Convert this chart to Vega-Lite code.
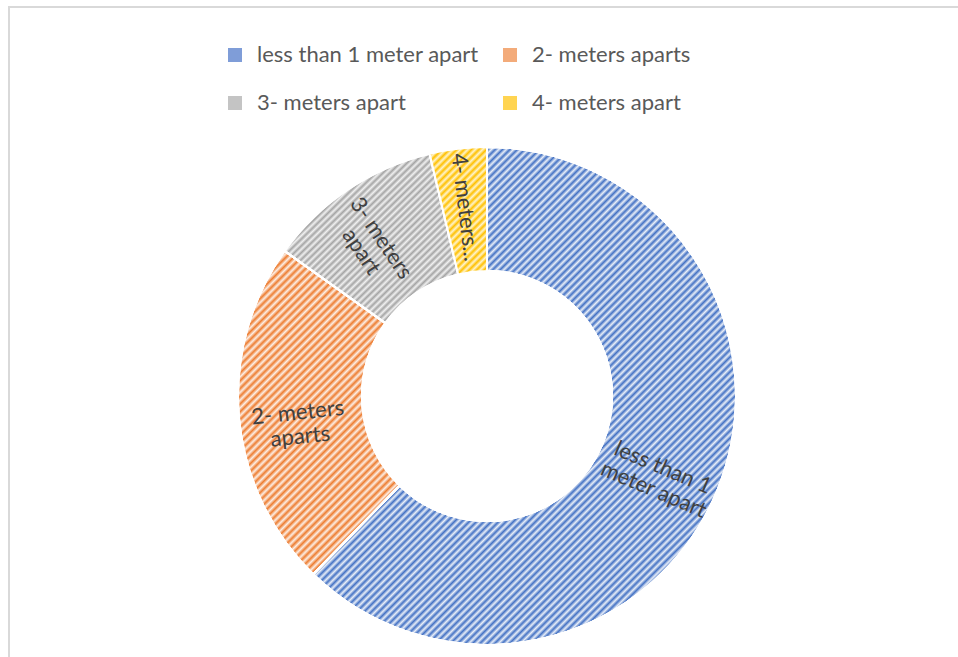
{
  "$schema": "https://vega.github.io/schema/vega-lite/v6.json",
  "width": 956,
  "height": 778,
  "autosize": {"type": "none"},
  "padding": {"left": 9, "top": 7, "right": -7, "bottom": -128},
  "background": "white",
  "view": {"stroke": "#d9d9d9", "strokeWidth": 2},
  "config": {"view": {"stroke": "#d9d9d9", "strokeWidth": 2}, "style": {"view": {"stroke": "#d9d9d9", "strokeWidth": 2}}, "font": "Lato"},
  "data": {"values": [
    {"category": "less than 1 meter apart", "share": 62.3, "label": "less than 1\nmeter apart"},
    {"category": "2- meters aparts", "share": 22.6, "label": "2- meters\naparts"},
    {"category": "3- meters apart", "share": 11.4, "label": "3- meters\napart"},
    {"category": "4- meters apart", "share": 3.7, "label": "4- meters..."}
  ]},
  "encoding": {
    "theta": {"field": "share", "type": "quantitative", "stack": true},
    "order": {"field": "share", "type": "quantitative", "sort": "descending"}
  },
  "layer": [
    {
      "mark": {"type": "arc", "outerRadius": 249, "innerRadius": 125, "stroke": "white", "strokeWidth": 2},
      "encoding": {
        "color": {
          "field": "category",
          "type": "nominal",
          "scale": {
            "domain": ["less than 1 meter apart", "2- meters aparts", "3- meters apart", "4- meters apart"],
            "range": ["#7f9dd8", "#f3ab7a", "#c4c4c4", "#ffd451"]
          },
          "legend": {
            "title": null,
            "orient": "none",
            "legendX": 215,
            "legendY": 37,
            "direction": "horizontal",
            "columns": 2,
            "symbolType": "square",
            "symbolSize": 196,
            "symbolStrokeWidth": 0,
            "labelFontSize": 22,
            "labelFont": "Lato",
            "labelColor": "#595959",
            "labelLimit": 400,
            "labelOffset": 11,
            "columnPadding": 20,
            "rowPadding": 26,
            "padding": 0
          }
        }
      }
    },
    {
      "mark": {"type": "arc", "outerRadius": 249, "innerRadius": 125, "stroke": "white", "strokeWidth": 2,
        "fill": {"gradient": "linear", "x1": 0, "y1": 0, "x2": 0.912, "y2": 1.076, "stops": [
{"offset":0,"color":"#4472c4"},{"offset":0.004,"color":"#e8eef8"},{"offset":0.008,"color":"#4472c4"},{"offset":0.012,"color":"#e8eef8"},{"offset":0.016,"color":"#4472c4"},{"offset":0.02,"color":"#e8eef8"},{"offset":0.024,"color":"#4472c4"},{"offset":0.028,"color":"#e8eef8"},{"offset":0.032,"color":"#4472c4"},{"offset":0.036,"color":"#e8eef8"},
{"offset":0.04,"color":"#4472c4"},{"offset":0.044,"color":"#e8eef8"},{"offset":0.048,"color":"#4472c4"},{"offset":0.052,"color":"#e8eef8"},{"offset":0.056,"color":"#4472c4"},{"offset":0.06,"color":"#e8eef8"},{"offset":0.064,"color":"#4472c4"},{"offset":0.068,"color":"#e8eef8"},{"offset":0.072,"color":"#4472c4"},{"offset":0.076,"color":"#e8eef8"},
{"offset":0.08,"color":"#4472c4"},{"offset":0.084,"color":"#e8eef8"},{"offset":0.088,"color":"#4472c4"},{"offset":0.092,"color":"#e8eef8"},{"offset":0.096,"color":"#4472c4"},{"offset":0.1,"color":"#e8eef8"},{"offset":0.104,"color":"#4472c4"},{"offset":0.108,"color":"#e8eef8"},{"offset":0.112,"color":"#4472c4"},{"offset":0.116,"color":"#e8eef8"},
{"offset":0.12,"color":"#4472c4"},{"offset":0.124,"color":"#e8eef8"},{"offset":0.128,"color":"#4472c4"},{"offset":0.132,"color":"#e8eef8"},{"offset":0.136,"color":"#4472c4"},{"offset":0.14,"color":"#e8eef8"},{"offset":0.144,"color":"#4472c4"},{"offset":0.148,"color":"#e8eef8"},{"offset":0.152,"color":"#4472c4"},{"offset":0.156,"color":"#e8eef8"},
{"offset":0.16,"color":"#4472c4"},{"offset":0.164,"color":"#e8eef8"},{"offset":0.168,"color":"#4472c4"},{"offset":0.172,"color":"#e8eef8"},{"offset":0.176,"color":"#4472c4"},{"offset":0.18,"color":"#e8eef8"},{"offset":0.184,"color":"#4472c4"},{"offset":0.188,"color":"#e8eef8"},{"offset":0.192,"color":"#4472c4"},{"offset":0.196,"color":"#e8eef8"},
{"offset":0.2,"color":"#4472c4"},{"offset":0.204,"color":"#e8eef8"},{"offset":0.208,"color":"#4472c4"},{"offset":0.212,"color":"#e8eef8"},{"offset":0.216,"color":"#4472c4"},{"offset":0.22,"color":"#e8eef8"},{"offset":0.224,"color":"#4472c4"},{"offset":0.228,"color":"#e8eef8"},{"offset":0.232,"color":"#4472c4"},{"offset":0.236,"color":"#e8eef8"},
{"offset":0.24,"color":"#4472c4"},{"offset":0.244,"color":"#e8eef8"},{"offset":0.248,"color":"#4472c4"},{"offset":0.252,"color":"#e8eef8"},{"offset":0.256,"color":"#4472c4"},{"offset":0.26,"color":"#e8eef8"},{"offset":0.264,"color":"#4472c4"},{"offset":0.268,"color":"#e8eef8"},{"offset":0.272,"color":"#4472c4"},{"offset":0.276,"color":"#e8eef8"},
{"offset":0.28,"color":"#4472c4"},{"offset":0.284,"color":"#e8eef8"},{"offset":0.288,"color":"#4472c4"},{"offset":0.292,"color":"#e8eef8"},{"offset":0.296,"color":"#4472c4"},{"offset":0.3,"color":"#e8eef8"},{"offset":0.304,"color":"#4472c4"},{"offset":0.308,"color":"#e8eef8"},{"offset":0.312,"color":"#4472c4"},{"offset":0.316,"color":"#e8eef8"},
{"offset":0.32,"color":"#4472c4"},{"offset":0.324,"color":"#e8eef8"},{"offset":0.328,"color":"#4472c4"},{"offset":0.332,"color":"#e8eef8"},{"offset":0.336,"color":"#4472c4"},{"offset":0.34,"color":"#e8eef8"},{"offset":0.344,"color":"#4472c4"},{"offset":0.348,"color":"#e8eef8"},{"offset":0.352,"color":"#4472c4"},{"offset":0.356,"color":"#e8eef8"},
{"offset":0.36,"color":"#4472c4"},{"offset":0.364,"color":"#e8eef8"},{"offset":0.368,"color":"#4472c4"},{"offset":0.372,"color":"#e8eef8"},{"offset":0.376,"color":"#4472c4"},{"offset":0.38,"color":"#e8eef8"},{"offset":0.384,"color":"#4472c4"},{"offset":0.388,"color":"#e8eef8"},{"offset":0.392,"color":"#4472c4"},{"offset":0.396,"color":"#e8eef8"},
{"offset":0.4,"color":"#4472c4"},{"offset":0.404,"color":"#e8eef8"},{"offset":0.408,"color":"#4472c4"},{"offset":0.412,"color":"#e8eef8"},{"offset":0.416,"color":"#4472c4"},{"offset":0.42,"color":"#e8eef8"},{"offset":0.424,"color":"#4472c4"},{"offset":0.428,"color":"#e8eef8"},{"offset":0.432,"color":"#4472c4"},{"offset":0.436,"color":"#e8eef8"},
{"offset":0.44,"color":"#4472c4"},{"offset":0.444,"color":"#e8eef8"},{"offset":0.448,"color":"#4472c4"},{"offset":0.452,"color":"#e8eef8"},{"offset":0.456,"color":"#4472c4"},{"offset":0.46,"color":"#e8eef8"},{"offset":0.464,"color":"#4472c4"},{"offset":0.468,"color":"#e8eef8"},{"offset":0.472,"color":"#4472c4"},{"offset":0.476,"color":"#e8eef8"},
{"offset":0.48,"color":"#4472c4"},{"offset":0.484,"color":"#e8eef8"},{"offset":0.488,"color":"#4472c4"},{"offset":0.492,"color":"#e8eef8"},{"offset":0.496,"color":"#4472c4"},{"offset":0.5,"color":"#e8eef8"},{"offset":0.504,"color":"#4472c4"},{"offset":0.508,"color":"#e8eef8"},{"offset":0.512,"color":"#4472c4"},{"offset":0.516,"color":"#e8eef8"},
{"offset":0.52,"color":"#4472c4"},{"offset":0.524,"color":"#e8eef8"},{"offset":0.528,"color":"#4472c4"},{"offset":0.532,"color":"#e8eef8"},{"offset":0.536,"color":"#4472c4"},{"offset":0.54,"color":"#e8eef8"},{"offset":0.544,"color":"#4472c4"},{"offset":0.548,"color":"#e8eef8"},{"offset":0.552,"color":"#4472c4"},{"offset":0.556,"color":"#e8eef8"},
{"offset":0.56,"color":"#4472c4"},{"offset":0.564,"color":"#e8eef8"},{"offset":0.568,"color":"#4472c4"},{"offset":0.572,"color":"#e8eef8"},{"offset":0.576,"color":"#4472c4"},{"offset":0.58,"color":"#e8eef8"},{"offset":0.584,"color":"#4472c4"},{"offset":0.588,"color":"#e8eef8"},{"offset":0.592,"color":"#4472c4"},{"offset":0.596,"color":"#e8eef8"},
{"offset":0.6,"color":"#4472c4"},{"offset":0.604,"color":"#e8eef8"},{"offset":0.608,"color":"#4472c4"},{"offset":0.612,"color":"#e8eef8"},{"offset":0.616,"color":"#4472c4"},{"offset":0.62,"color":"#e8eef8"},{"offset":0.624,"color":"#4472c4"},{"offset":0.628,"color":"#e8eef8"},{"offset":0.632,"color":"#4472c4"},{"offset":0.636,"color":"#e8eef8"},
{"offset":0.64,"color":"#4472c4"},{"offset":0.644,"color":"#e8eef8"},{"offset":0.648,"color":"#4472c4"},{"offset":0.652,"color":"#e8eef8"},{"offset":0.656,"color":"#4472c4"},{"offset":0.66,"color":"#e8eef8"},{"offset":0.664,"color":"#4472c4"},{"offset":0.668,"color":"#e8eef8"},{"offset":0.672,"color":"#4472c4"},{"offset":0.676,"color":"#e8eef8"},
{"offset":0.68,"color":"#4472c4"},{"offset":0.684,"color":"#e8eef8"},{"offset":0.688,"color":"#4472c4"},{"offset":0.692,"color":"#e8eef8"},{"offset":0.696,"color":"#4472c4"},{"offset":0.7,"color":"#e8eef8"},{"offset":0.704,"color":"#4472c4"},{"offset":0.708,"color":"#e8eef8"},{"offset":0.712,"color":"#4472c4"},{"offset":0.716,"color":"#e8eef8"},
{"offset":0.72,"color":"#4472c4"},{"offset":0.724,"color":"#e8eef8"},{"offset":0.728,"color":"#4472c4"},{"offset":0.732,"color":"#e8eef8"},{"offset":0.736,"color":"#4472c4"},{"offset":0.74,"color":"#e8eef8"},{"offset":0.744,"color":"#4472c4"},{"offset":0.748,"color":"#e8eef8"},{"offset":0.752,"color":"#4472c4"},{"offset":0.756,"color":"#e8eef8"},
{"offset":0.76,"color":"#4472c4"},{"offset":0.764,"color":"#e8eef8"},{"offset":0.768,"color":"#4472c4"},{"offset":0.772,"color":"#e8eef8"},{"offset":0.776,"color":"#4472c4"},{"offset":0.78,"color":"#e8eef8"},{"offset":0.784,"color":"#4472c4"},{"offset":0.788,"color":"#e8eef8"},{"offset":0.792,"color":"#4472c4"},{"offset":0.796,"color":"#e8eef8"},
{"offset":0.8,"color":"#4472c4"},{"offset":0.804,"color":"#e8eef8"},{"offset":0.808,"color":"#4472c4"},{"offset":0.812,"color":"#e8eef8"},{"offset":0.816,"color":"#4472c4"},{"offset":0.82,"color":"#e8eef8"},{"offset":0.824,"color":"#4472c4"},{"offset":0.828,"color":"#e8eef8"},{"offset":0.832,"color":"#4472c4"},{"offset":0.836,"color":"#e8eef8"},
{"offset":0.84,"color":"#4472c4"},{"offset":0.844,"color":"#e8eef8"},{"offset":0.848,"color":"#4472c4"},{"offset":0.852,"color":"#e8eef8"},{"offset":0.856,"color":"#4472c4"},{"offset":0.86,"color":"#e8eef8"},{"offset":0.864,"color":"#4472c4"},{"offset":0.868,"color":"#e8eef8"},{"offset":0.872,"color":"#4472c4"},{"offset":0.876,"color":"#e8eef8"},
{"offset":0.88,"color":"#4472c4"},{"offset":0.884,"color":"#e8eef8"},{"offset":0.888,"color":"#4472c4"},{"offset":0.892,"color":"#e8eef8"},{"offset":0.896,"color":"#4472c4"},{"offset":0.9,"color":"#e8eef8"},{"offset":0.904,"color":"#4472c4"},{"offset":0.908,"color":"#e8eef8"},{"offset":0.912,"color":"#4472c4"},{"offset":0.916,"color":"#e8eef8"},
{"offset":0.92,"color":"#4472c4"},{"offset":0.924,"color":"#e8eef8"},{"offset":0.928,"color":"#4472c4"},{"offset":0.932,"color":"#e8eef8"},{"offset":0.936,"color":"#4472c4"},{"offset":0.94,"color":"#e8eef8"},{"offset":0.944,"color":"#4472c4"},{"offset":0.948,"color":"#e8eef8"},{"offset":0.952,"color":"#4472c4"},{"offset":0.956,"color":"#e8eef8"},
{"offset":0.96,"color":"#4472c4"},{"offset":0.964,"color":"#e8eef8"},{"offset":0.968,"color":"#4472c4"},{"offset":0.972,"color":"#e8eef8"},{"offset":0.976,"color":"#4472c4"},{"offset":0.98,"color":"#e8eef8"},{"offset":0.984,"color":"#4472c4"},{"offset":0.988,"color":"#e8eef8"},{"offset":0.992,"color":"#4472c4"},{"offset":0.996,"color":"#e8eef8"},
{"offset":1,"color":"#4472c4"}
        ]}},
      "encoding": {"fillOpacity": {"condition": {"test": "datum.category === 'less than 1 meter apart'", "value": 1}, "value": 0}}
    },
    {
      "mark": {"type": "arc", "outerRadius": 249, "innerRadius": 125, "stroke": "white", "strokeWidth": 2,
        "fill": {"gradient": "linear", "x1": 0, "y1": 0, "x2": 0.6, "y2": 1.2, "stops": [
{"offset":0,"color":"#ed7d31"},{"offset":0.008,"color":"#fdeee4"},{"offset":0.016,"color":"#ed7d31"},{"offset":0.024,"color":"#fdeee4"},{"offset":0.032,"color":"#ed7d31"},{"offset":0.04,"color":"#fdeee4"},{"offset":0.048,"color":"#ed7d31"},{"offset":0.056,"color":"#fdeee4"},{"offset":0.064,"color":"#ed7d31"},{"offset":0.072,"color":"#fdeee4"},
{"offset":0.08,"color":"#ed7d31"},{"offset":0.088,"color":"#fdeee4"},{"offset":0.096,"color":"#ed7d31"},{"offset":0.104,"color":"#fdeee4"},{"offset":0.112,"color":"#ed7d31"},{"offset":0.12,"color":"#fdeee4"},{"offset":0.128,"color":"#ed7d31"},{"offset":0.136,"color":"#fdeee4"},{"offset":0.144,"color":"#ed7d31"},{"offset":0.152,"color":"#fdeee4"},
{"offset":0.16,"color":"#ed7d31"},{"offset":0.168,"color":"#fdeee4"},{"offset":0.176,"color":"#ed7d31"},{"offset":0.184,"color":"#fdeee4"},{"offset":0.192,"color":"#ed7d31"},{"offset":0.2,"color":"#fdeee4"},{"offset":0.208,"color":"#ed7d31"},{"offset":0.216,"color":"#fdeee4"},{"offset":0.224,"color":"#ed7d31"},{"offset":0.232,"color":"#fdeee4"},
{"offset":0.24,"color":"#ed7d31"},{"offset":0.248,"color":"#fdeee4"},{"offset":0.256,"color":"#ed7d31"},{"offset":0.264,"color":"#fdeee4"},{"offset":0.272,"color":"#ed7d31"},{"offset":0.28,"color":"#fdeee4"},{"offset":0.288,"color":"#ed7d31"},{"offset":0.296,"color":"#fdeee4"},{"offset":0.304,"color":"#ed7d31"},{"offset":0.312,"color":"#fdeee4"},
{"offset":0.32,"color":"#ed7d31"},{"offset":0.328,"color":"#fdeee4"},{"offset":0.336,"color":"#ed7d31"},{"offset":0.344,"color":"#fdeee4"},{"offset":0.352,"color":"#ed7d31"},{"offset":0.36,"color":"#fdeee4"},{"offset":0.368,"color":"#ed7d31"},{"offset":0.376,"color":"#fdeee4"},{"offset":0.384,"color":"#ed7d31"},{"offset":0.392,"color":"#fdeee4"},
{"offset":0.4,"color":"#ed7d31"},{"offset":0.408,"color":"#fdeee4"},{"offset":0.416,"color":"#ed7d31"},{"offset":0.424,"color":"#fdeee4"},{"offset":0.432,"color":"#ed7d31"},{"offset":0.44,"color":"#fdeee4"},{"offset":0.448,"color":"#ed7d31"},{"offset":0.456,"color":"#fdeee4"},{"offset":0.464,"color":"#ed7d31"},{"offset":0.472,"color":"#fdeee4"},
{"offset":0.48,"color":"#ed7d31"},{"offset":0.488,"color":"#fdeee4"},{"offset":0.496,"color":"#ed7d31"},{"offset":0.504,"color":"#fdeee4"},{"offset":0.512,"color":"#ed7d31"},{"offset":0.52,"color":"#fdeee4"},{"offset":0.528,"color":"#ed7d31"},{"offset":0.536,"color":"#fdeee4"},{"offset":0.544,"color":"#ed7d31"},{"offset":0.552,"color":"#fdeee4"},
{"offset":0.56,"color":"#ed7d31"},{"offset":0.568,"color":"#fdeee4"},{"offset":0.576,"color":"#ed7d31"},{"offset":0.584,"color":"#fdeee4"},{"offset":0.592,"color":"#ed7d31"},{"offset":0.6,"color":"#fdeee4"},{"offset":0.608,"color":"#ed7d31"},{"offset":0.616,"color":"#fdeee4"},{"offset":0.624,"color":"#ed7d31"},{"offset":0.632,"color":"#fdeee4"},
{"offset":0.64,"color":"#ed7d31"},{"offset":0.648,"color":"#fdeee4"},{"offset":0.656,"color":"#ed7d31"},{"offset":0.664,"color":"#fdeee4"},{"offset":0.672,"color":"#ed7d31"},{"offset":0.68,"color":"#fdeee4"},{"offset":0.688,"color":"#ed7d31"},{"offset":0.696,"color":"#fdeee4"},{"offset":0.704,"color":"#ed7d31"},{"offset":0.712,"color":"#fdeee4"},
{"offset":0.72,"color":"#ed7d31"},{"offset":0.728,"color":"#fdeee4"},{"offset":0.736,"color":"#ed7d31"},{"offset":0.744,"color":"#fdeee4"},{"offset":0.752,"color":"#ed7d31"},{"offset":0.76,"color":"#fdeee4"},{"offset":0.768,"color":"#ed7d31"},{"offset":0.776,"color":"#fdeee4"},{"offset":0.784,"color":"#ed7d31"},{"offset":0.792,"color":"#fdeee4"},
{"offset":0.8,"color":"#ed7d31"},{"offset":0.808,"color":"#fdeee4"},{"offset":0.816,"color":"#ed7d31"},{"offset":0.824,"color":"#fdeee4"},{"offset":0.832,"color":"#ed7d31"},{"offset":0.84,"color":"#fdeee4"},{"offset":0.848,"color":"#ed7d31"},{"offset":0.856,"color":"#fdeee4"},{"offset":0.864,"color":"#ed7d31"},{"offset":0.872,"color":"#fdeee4"},
{"offset":0.88,"color":"#ed7d31"},{"offset":0.888,"color":"#fdeee4"},{"offset":0.896,"color":"#ed7d31"},{"offset":0.904,"color":"#fdeee4"},{"offset":0.912,"color":"#ed7d31"},{"offset":0.92,"color":"#fdeee4"},{"offset":0.928,"color":"#ed7d31"},{"offset":0.936,"color":"#fdeee4"},{"offset":0.944,"color":"#ed7d31"},{"offset":0.952,"color":"#fdeee4"},
{"offset":0.96,"color":"#ed7d31"},{"offset":0.968,"color":"#fdeee4"},{"offset":0.976,"color":"#ed7d31"},{"offset":0.984,"color":"#fdeee4"},{"offset":0.992,"color":"#ed7d31"},{"offset":1,"color":"#fdeee4"}
        ]}},
      "encoding": {"fillOpacity": {"condition": {"test": "datum.category === '2- meters aparts'", "value": 1}, "value": 0}}
    },
    {
      "mark": {"type": "arc", "outerRadius": 249, "innerRadius": 125, "stroke": "white", "strokeWidth": 2,
        "fill": {"gradient": "linear", "x1": 0, "y1": 0, "x2": 1, "y2": 1, "stops": [
{"offset":0,"color":"#a5a5a5"},{"offset":0.01,"color":"#f0f0f0"},{"offset":0.02,"color":"#a5a5a5"},{"offset":0.03,"color":"#f0f0f0"},{"offset":0.04,"color":"#a5a5a5"},{"offset":0.05,"color":"#f0f0f0"},{"offset":0.06,"color":"#a5a5a5"},{"offset":0.07,"color":"#f0f0f0"},{"offset":0.08,"color":"#a5a5a5"},{"offset":0.09,"color":"#f0f0f0"},
{"offset":0.1,"color":"#a5a5a5"},{"offset":0.11,"color":"#f0f0f0"},{"offset":0.12,"color":"#a5a5a5"},{"offset":0.13,"color":"#f0f0f0"},{"offset":0.14,"color":"#a5a5a5"},{"offset":0.15,"color":"#f0f0f0"},{"offset":0.16,"color":"#a5a5a5"},{"offset":0.17,"color":"#f0f0f0"},{"offset":0.18,"color":"#a5a5a5"},{"offset":0.19,"color":"#f0f0f0"},
{"offset":0.2,"color":"#a5a5a5"},{"offset":0.21,"color":"#f0f0f0"},{"offset":0.22,"color":"#a5a5a5"},{"offset":0.23,"color":"#f0f0f0"},{"offset":0.24,"color":"#a5a5a5"},{"offset":0.25,"color":"#f0f0f0"},{"offset":0.26,"color":"#a5a5a5"},{"offset":0.27,"color":"#f0f0f0"},{"offset":0.28,"color":"#a5a5a5"},{"offset":0.29,"color":"#f0f0f0"},
{"offset":0.3,"color":"#a5a5a5"},{"offset":0.31,"color":"#f0f0f0"},{"offset":0.32,"color":"#a5a5a5"},{"offset":0.33,"color":"#f0f0f0"},{"offset":0.34,"color":"#a5a5a5"},{"offset":0.35,"color":"#f0f0f0"},{"offset":0.36,"color":"#a5a5a5"},{"offset":0.37,"color":"#f0f0f0"},{"offset":0.38,"color":"#a5a5a5"},{"offset":0.39,"color":"#f0f0f0"},
{"offset":0.4,"color":"#a5a5a5"},{"offset":0.41,"color":"#f0f0f0"},{"offset":0.42,"color":"#a5a5a5"},{"offset":0.43,"color":"#f0f0f0"},{"offset":0.44,"color":"#a5a5a5"},{"offset":0.45,"color":"#f0f0f0"},{"offset":0.46,"color":"#a5a5a5"},{"offset":0.47,"color":"#f0f0f0"},{"offset":0.48,"color":"#a5a5a5"},{"offset":0.49,"color":"#f0f0f0"},
{"offset":0.5,"color":"#a5a5a5"},{"offset":0.51,"color":"#f0f0f0"},{"offset":0.52,"color":"#a5a5a5"},{"offset":0.53,"color":"#f0f0f0"},{"offset":0.54,"color":"#a5a5a5"},{"offset":0.55,"color":"#f0f0f0"},{"offset":0.56,"color":"#a5a5a5"},{"offset":0.57,"color":"#f0f0f0"},{"offset":0.58,"color":"#a5a5a5"},{"offset":0.59,"color":"#f0f0f0"},
{"offset":0.6,"color":"#a5a5a5"},{"offset":0.61,"color":"#f0f0f0"},{"offset":0.62,"color":"#a5a5a5"},{"offset":0.63,"color":"#f0f0f0"},{"offset":0.64,"color":"#a5a5a5"},{"offset":0.65,"color":"#f0f0f0"},{"offset":0.66,"color":"#a5a5a5"},{"offset":0.67,"color":"#f0f0f0"},{"offset":0.68,"color":"#a5a5a5"},{"offset":0.69,"color":"#f0f0f0"},
{"offset":0.7,"color":"#a5a5a5"},{"offset":0.71,"color":"#f0f0f0"},{"offset":0.72,"color":"#a5a5a5"},{"offset":0.73,"color":"#f0f0f0"},{"offset":0.74,"color":"#a5a5a5"},{"offset":0.75,"color":"#f0f0f0"},{"offset":0.76,"color":"#a5a5a5"},{"offset":0.77,"color":"#f0f0f0"},{"offset":0.78,"color":"#a5a5a5"},{"offset":0.79,"color":"#f0f0f0"},
{"offset":0.8,"color":"#a5a5a5"},{"offset":0.81,"color":"#f0f0f0"},{"offset":0.82,"color":"#a5a5a5"},{"offset":0.83,"color":"#f0f0f0"},{"offset":0.84,"color":"#a5a5a5"},{"offset":0.85,"color":"#f0f0f0"},{"offset":0.86,"color":"#a5a5a5"},{"offset":0.87,"color":"#f0f0f0"},{"offset":0.88,"color":"#a5a5a5"},{"offset":0.89,"color":"#f0f0f0"},
{"offset":0.9,"color":"#a5a5a5"},{"offset":0.91,"color":"#f0f0f0"},{"offset":0.92,"color":"#a5a5a5"},{"offset":0.93,"color":"#f0f0f0"},{"offset":0.94,"color":"#a5a5a5"},{"offset":0.95,"color":"#f0f0f0"},{"offset":0.96,"color":"#a5a5a5"},{"offset":0.97,"color":"#f0f0f0"},{"offset":0.98,"color":"#a5a5a5"},{"offset":0.99,"color":"#f0f0f0"},
{"offset":1,"color":"#a5a5a5"}
        ]}},
      "encoding": {"fillOpacity": {"condition": {"test": "datum.category === '3- meters apart'", "value": 1}, "value": 0}}
    },
    {
      "mark": {"type": "arc", "outerRadius": 249, "innerRadius": 125, "stroke": "white", "strokeWidth": 2,
        "fill": {"gradient": "linear", "x1": 0, "y1": 0, "x2": 0.541, "y2": 1.206, "stops": [
{"offset":0,"color":"#ffc000"},{"offset":0.02,"color":"#fff4cc"},{"offset":0.04,"color":"#ffc000"},{"offset":0.06,"color":"#fff4cc"},{"offset":0.08,"color":"#ffc000"},{"offset":0.1,"color":"#fff4cc"},{"offset":0.12,"color":"#ffc000"},{"offset":0.14,"color":"#fff4cc"},{"offset":0.16,"color":"#ffc000"},{"offset":0.18,"color":"#fff4cc"},
{"offset":0.2,"color":"#ffc000"},{"offset":0.22,"color":"#fff4cc"},{"offset":0.24,"color":"#ffc000"},{"offset":0.26,"color":"#fff4cc"},{"offset":0.28,"color":"#ffc000"},{"offset":0.3,"color":"#fff4cc"},{"offset":0.32,"color":"#ffc000"},{"offset":0.34,"color":"#fff4cc"},{"offset":0.36,"color":"#ffc000"},{"offset":0.38,"color":"#fff4cc"},
{"offset":0.4,"color":"#ffc000"},{"offset":0.42,"color":"#fff4cc"},{"offset":0.44,"color":"#ffc000"},{"offset":0.46,"color":"#fff4cc"},{"offset":0.48,"color":"#ffc000"},{"offset":0.5,"color":"#fff4cc"},{"offset":0.52,"color":"#ffc000"},{"offset":0.54,"color":"#fff4cc"},{"offset":0.56,"color":"#ffc000"},{"offset":0.58,"color":"#fff4cc"},
{"offset":0.6,"color":"#ffc000"},{"offset":0.62,"color":"#fff4cc"},{"offset":0.64,"color":"#ffc000"},{"offset":0.66,"color":"#fff4cc"},{"offset":0.68,"color":"#ffc000"},{"offset":0.7,"color":"#fff4cc"},{"offset":0.72,"color":"#ffc000"},{"offset":0.74,"color":"#fff4cc"},{"offset":0.76,"color":"#ffc000"},{"offset":0.78,"color":"#fff4cc"},
{"offset":0.8,"color":"#ffc000"},{"offset":0.82,"color":"#fff4cc"},{"offset":0.84,"color":"#ffc000"},{"offset":0.86,"color":"#fff4cc"},{"offset":0.88,"color":"#ffc000"},{"offset":0.9,"color":"#fff4cc"},{"offset":0.92,"color":"#ffc000"},{"offset":0.94,"color":"#fff4cc"},{"offset":0.96,"color":"#ffc000"},{"offset":0.98,"color":"#fff4cc"},
{"offset":1,"color":"#ffc000"}
        ]}},
      "encoding": {"fillOpacity": {"condition": {"test": "datum.category === '4- meters apart'", "value": 1}, "value": 0}}
    },
    {
      "mark": {"type": "text", "radius": 190, "lineBreak": "\n", "fontSize": 22, "font": "Lato", "fill": "#404040", "align": "center", "baseline": "middle"},
      "encoding": {
        "text": {"field": "label"},
        "angle": {
          "condition": [
            {"test": "datum.category === '2- meters aparts'", "value": -6},
            {"test": "datum.category === '3- meters apart'", "value": 56},
            {"test": "datum.category === '4- meters apart'", "value": 83}
          ],
          "value": 23
        }
      }
    }
  ]
}
